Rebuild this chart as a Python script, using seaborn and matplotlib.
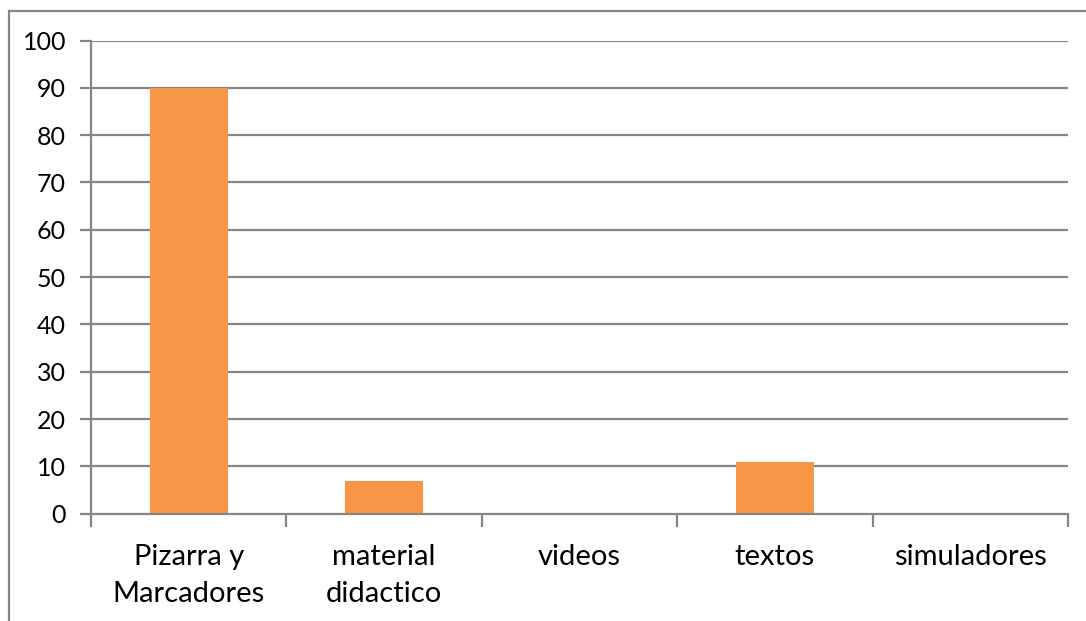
import matplotlib
matplotlib.use("Agg")
import matplotlib.pyplot as plt
from matplotlib.patches import Rectangle
import seaborn as sns
import pandas as pd

categories = ["Pizarra y\nMarcadores", "material\ndidactico", "videos", "textos", "simuladores"]
values = [90, 7, 0, 11, 0]
y_ticks = [0, 10, 20, 30, 40, 50, 60, 70, 80, 90, 100]

bar_color = "#F79646"
line_color = "#868686"

sns.set_theme(style="white")
plt.rcParams["font.family"] = ["Lato", "DejaVu Sans"]

df = pd.DataFrame({"categoria": categories, "valor": values})

fig = plt.figure(figsize=(10.86, 6.21), dpi=100)
ax = fig.add_axes([91 / 1086, 1 - 513.7 / 621, (1068 - 91) / 1086, (513.7 - 40.5) / 621])

sns.barplot(data=df, x="categoria", y="valor", color=bar_color, saturation=1,
            width=0.4, ax=ax, zorder=3)
for p in ax.patches:
    p.set_edgecolor("none")

ax.set_xlim(-0.5, len(categories) - 0.5)
ax.set_ylim(0, 100)
ax.set_yticks(y_ticks)
ax.set_xlabel("")
ax.set_ylabel("")

# horizontal gridlines
for t in y_ticks[1:]:
    ax.axhline(t, color=line_color, lw=1.6, zorder=1)

# category labels centred, tick marks at the category boundaries
ax.set_xticks(range(len(categories)))
ax.set_xticklabels(categories, fontsize=21, color="black", linespacing=1.5)
ax.set_xticks([i - 0.5 for i in range(len(categories) + 1)], minor=True)
ax.tick_params(axis="x", which="major", length=0, pad=22)
ax.tick_params(axis="x", which="minor", length=9, width=1.6, color=line_color, direction="out", bottom=True)
ax.tick_params(axis="y", which="major", length=8, width=1.6, color=line_color, direction="out",
               left=True, labelsize=18, pad=10, labelcolor="black")

for side in ["top", "right"]:
    ax.spines[side].set_visible(False)
for side in ["left", "bottom"]:
    ax.spines[side].set_color(line_color)
    ax.spines[side].set_linewidth(1.6)
    ax.spines[side].set_zorder(4)

# outer chart frame
fig.patches.append(Rectangle((8.5 / 1086, -0.1), 1.2, 1 - 10.5 / 621 + 0.1,
                             transform=fig.transFigure, fill=False,
                             edgecolor=line_color, lw=1.6))

fig.savefig("out.png", dpi=100, facecolor="white")
